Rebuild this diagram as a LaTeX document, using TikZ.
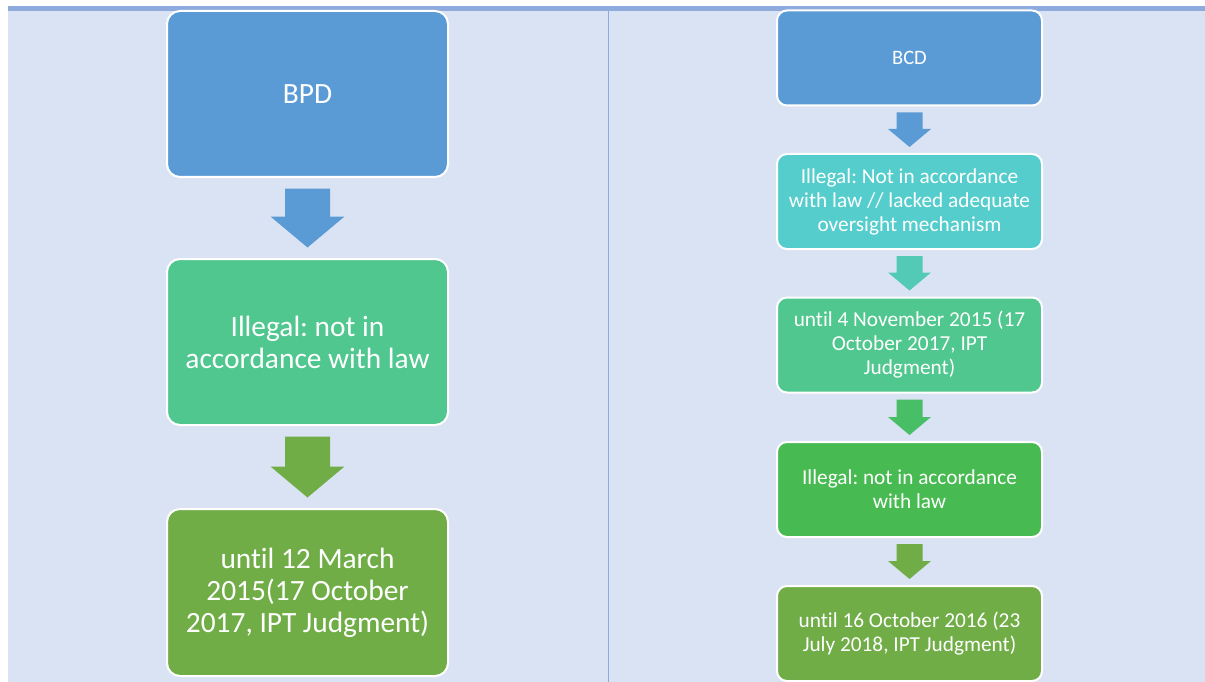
\documentclass[tikz,border=0pt]{standalone}
\usepackage{fontspec}
\setmainfont{Carlito}[Ligatures=NoCommon]
\usetikzlibrary{calc}
\frenchspacing
\definecolor{bg}{HTML}{DAE3F3}
\definecolor{bar}{HTML}{8FAADC}
\definecolor{cblue}{HTML}{5B9BD5}
\definecolor{cteal}{HTML}{55CDCD}
\definecolor{cmint}{HTML}{4FC78E}
\definecolor{cgreen}{HTML}{47BB51}
\definecolor{colive}{HTML}{70AD47}
\definecolor{ateal}{HTML}{53CAB5}
\definecolor{agreen}{HTML}{48BE66}
\newcommand{\myarrow}[7]{%
  \fill[#3] ($(#1.south)+(-#4,#7)$) -- ($(#1.south)+(#4,#7)$)
    -- ($(#2.north)+(#4,-#7-#6)$) -- ($(#2.north)+(#5,-#7-#6)$)
    -- ($(#2.north)+(0,-#7)$)
    -- ($(#2.north)+(-#5,-#7-#6)$) -- ($(#2.north)+(-#4,-#7-#6)$) -- cycle;}
\tikzset{
  bigbox/.style={rectangle, rounded corners=13pt, draw=white, line width=2pt,
    text=white, align=center, inner sep=0pt, minimum width=281pt, minimum height=166pt,
    font=\fontsize{29.4}{32}\selectfont},
  smallbox/.style={rectangle, rounded corners=10pt, draw=white, line width=2pt,
    text=white, align=center, inner sep=0pt, minimum width=265pt, minimum height=95pt,
    font=\fontsize{21.3}{24}\selectfont}
}
\begin{document}
\begin{tikzpicture}[x=1pt,y=-1pt]
\useasboundingbox (0,0) rectangle (1205,682);
\fill[white] (0,0) rectangle (1205,682);
\fill[bg] (8,11) rectangle (1205,682);
\fill[bar] (8,6) rectangle (1205,11);
\draw[bar, line width=1pt] (608.5,11) -- (608.5,682);

% left column
\node[bigbox, fill=cblue, font=\fontsize{29.4}{34}\selectfont] (bpd) at (307.5,94) {BPD};
\node[bigbox, fill=cmint] (l2) at (307.5,342) {Illegal: not in\\accordance with law};
\node[bigbox, fill=colive, minimum height=167pt] (l3) at (307.5,592.5) {until 12 March\\2015(17 October\\2017, IPT Judgment)};
\myarrow{bpd}{l2}{cblue}{22.5}{37}{31}{10.5}
\myarrow{l2}{l3}{colive}{22.5}{37}{31}{10.5}

% right column
\node[smallbox, fill=cblue, font=\fontsize{20.5}{22}\selectfont] (bcd) at (909.5,58) {BCD};
\node[smallbox, fill=cteal] (r2) at (909.5,201.5) {Illegal: Not in accordance\\with law // lacked adequate\\oversight mechanism};
\node[smallbox, fill=cmint] (r3) at (909.5,345) {until 4 November 2015 (17\\October 2017, IPT\\Judgment)};
\node[smallbox, fill=cgreen] (r4) at (909.5,489.5) {Illegal: not in accordance\\with law};
\node[smallbox, fill=colive] (r5) at (909.5,633.5) {until 16 October 2016 (23\\July 2018, IPT Judgment)};
\myarrow{bcd}{r2}{cblue}{13}{21.5}{18}{6}
\myarrow{r2}{r3}{ateal}{13}{21.5}{18}{6}
\myarrow{r3}{r4}{agreen}{13}{21.5}{18}{6}
\myarrow{r4}{r5}{colive}{13}{21.5}{18}{6}
\end{tikzpicture}
\end{document}
